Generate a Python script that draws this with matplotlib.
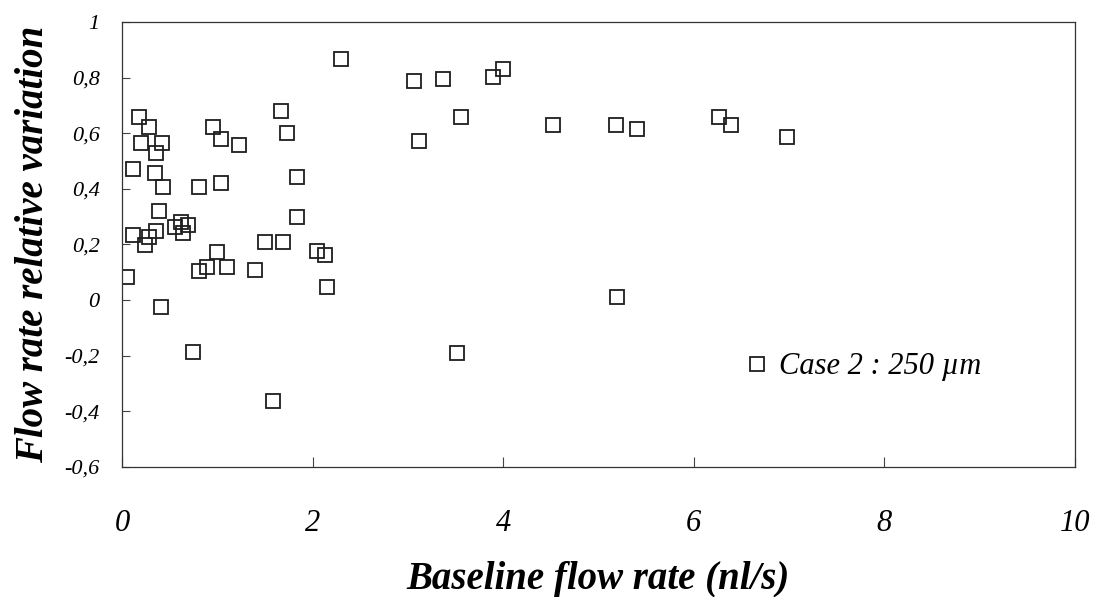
import matplotlib
matplotlib.use("Agg")
import matplotlib.pyplot as plt

# baseline flow rate (nl/s) and relative variation
baseline = [0.18, 0.28, 0.20, 0.42, 0.36, 0.12, 0.35, 0.43, 0.81, 1.04,
            0.96, 1.04, 1.23, 1.67, 1.73, 1.84, 1.84, 0.39, 0.12, 0.36,
            0.28, 0.24, 0.56, 0.62, 0.69, 0.64, 1.50, 1.69, 1.00, 0.89,
            0.81, 1.10, 1.40, 2.05, 2.13, 2.15, 0.05, 0.41, 0.75, 1.58,
            3.06, 3.37, 3.89, 4.00, 3.56, 3.12, 4.52, 5.18, 5.40, 6.26,
            6.39, 6.98, 2.30, 3.52, 5.19]
variation = [0.657, 0.621, 0.564, 0.564, 0.528, 0.470, 0.456, 0.405, 0.405, 0.420,
             0.621, 0.579, 0.556, 0.679, 0.600, 0.441, 0.297, 0.320, 0.234, 0.247,
             0.227, 0.198, 0.264, 0.282, 0.270, 0.240, 0.210, 0.210, 0.174, 0.119,
             0.104, 0.119, 0.110, 0.175, 0.162, 0.046, 0.082, -0.026, -0.185, -0.364,
             0.787, 0.794, 0.801, 0.830, 0.657, 0.571, 0.628, 0.628, 0.614, 0.657,
             0.628, 0.585, 0.866, -0.192, 0.010]

x_ticks = [0, 2, 4, 6, 8, 10]
x_labels = ["0", "2", "4", "6", "8", "10"]
y_ticks = [1, 0.8, 0.6, 0.4, 0.2, 0, -0.2, -0.4, -0.6]
y_labels = ["1", "0,8", "0,6", "0,4", "0,2", "0", "-0,2", "-0,4", "-0,6"]

series_name = "Case 2 : 250 µm"

plt.rcParams["font.family"] = ["Liberation Serif", "DejaVu Serif"]

fig = plt.figure(figsize=(10.96, 5.97), dpi=100)
ax = fig.add_axes([0.1113, 0.2178, 0.8695, 0.7454])

ax.plot(baseline, variation, linestyle="none", marker="s", markersize=10,
        markerfacecolor="none", markeredgecolor="#1e1e1e", markeredgewidth=1.3,
        label=series_name)

ax.set_xlim(0, 10)
ax.set_ylim(-0.6, 1)
ax.set_xticks(x_ticks)
ax.set_xticklabels(x_labels, fontsize=22, fontstyle="italic")
ax.set_yticks(y_ticks)
ax.set_yticklabels(y_labels, fontsize=16, fontstyle="italic")
ax.tick_params(axis="x", direction="in", length=7, width=0.8, color="#444444", pad=30)
ax.tick_params(axis="y", direction="in", length=6, width=0.8, color="#444444", pad=16)

for side in ax.spines.values():
    side.set_color("#333333")
    side.set_linewidth(0.9)

ax.set_xlabel("Baseline flow rate (nl/s)", fontsize=28, fontweight="bold",
              fontstyle="italic", labelpad=17)
ax.set_ylabel("Flow rate relative variation", fontsize=28, fontweight="bold",
              fontstyle="italic", labelpad=9)

ax.legend(loc="center left", bbox_to_anchor=(0.654, 0.225), frameon=False,
          borderpad=0, borderaxespad=0, handlelength=0.8, handletextpad=0.3,
          prop={"size": 22, "style": "italic"})

fig.savefig("out.png", dpi=100)
